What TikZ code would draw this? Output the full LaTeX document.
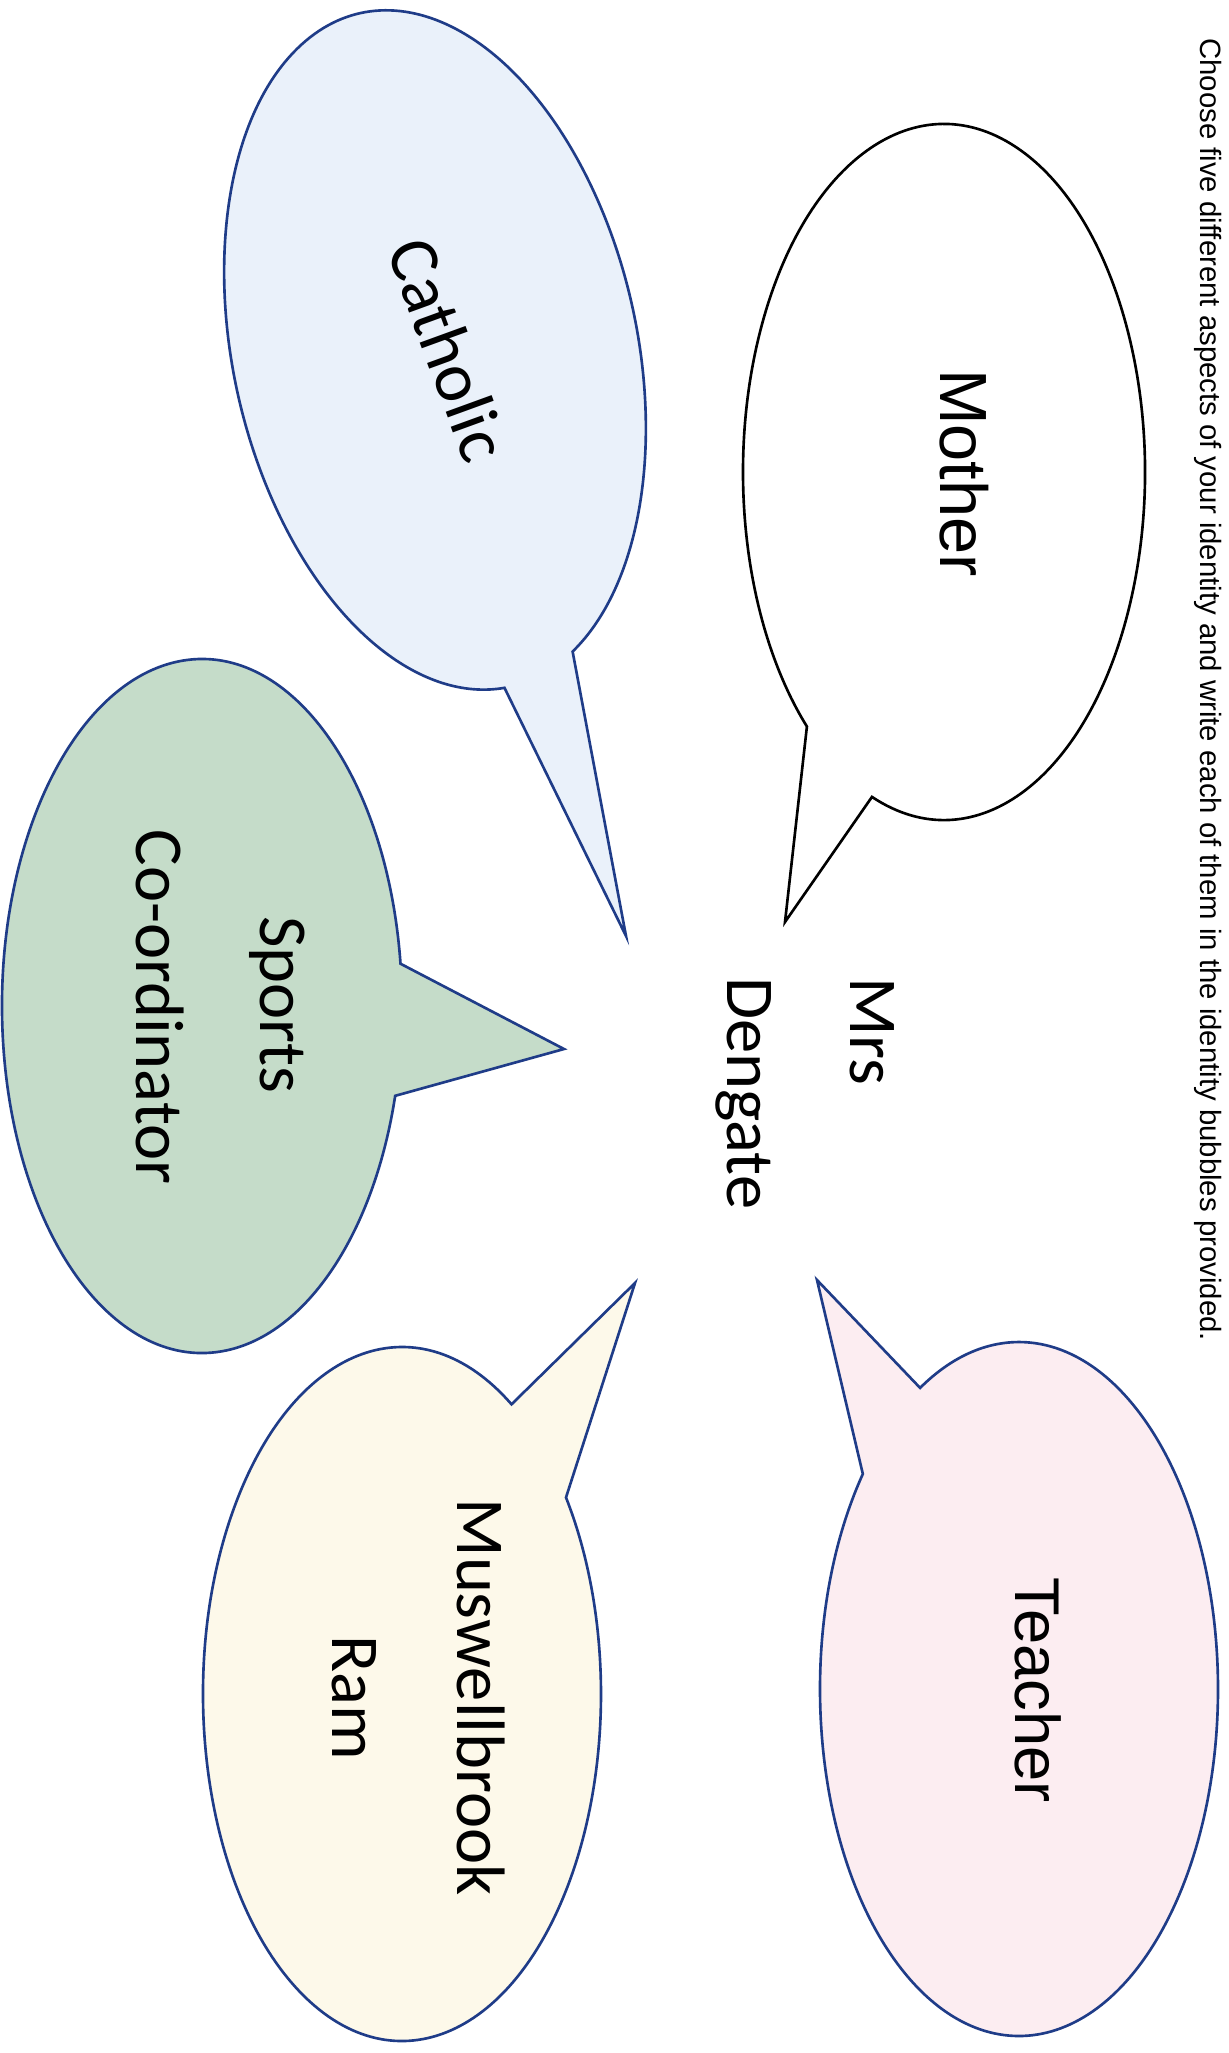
\documentclass[tikz,border=0pt]{standalone}
\usepackage{fontspec}
\setmainfont{Liberation Sans}
\newfontfamily\calfont{Carlito}
\definecolor{navy}{HTML}{1F3C88}
\definecolor{cathfill}{HTML}{EAF1FA}
\definecolor{sportsfill}{HTML}{C5DCC9}
\definecolor{ramfill}{HTML}{FDF9EA}
\definecolor{teachfill}{HTML}{FCEDF1}
\begin{document}
\begin{tikzpicture}[x=0.02cm,y=0.02cm,
  bubble/.style={line width=1.5pt, line join=miter},
  vtext/.style={inner sep=0pt, rotate=-90},
  arialbig/.style={font=\fontsize{38}{42}\selectfont},
  calbig/.style={font=\calfont\fontsize{39}{44}\selectfont}]
\fill[white] (0,0) rectangle (1229,-2053);
\useasboundingbox (0,0) rectangle (1229,-2053);

% instruction line
\node[vtext, anchor=base west, font=\fontsize{16.7}{20}\selectfont] (title) at (1200,-38)
  {Choose five different aspects of your identity and write each of them in the identity bubbles provided.};

% Mother bubble
\coordinate (mothertip) at (785,-922);
\path[bubble, draw=black, fill=white]
  ({944+201*cos(249)},{-472+348*sin(249)})
  arc[x radius=201, y radius=348, start angle=249, end angle=587]
  -- (mothertip) -- cycle;

% Catholic bubble
\coordinate (cathtip) at (626,-936);
\begin{scope}[shift={(435,-350)}, rotate=12.5]
\path[bubble, draw=navy, fill=cathfill]
  ({202*cos(290)},{345*sin(290)})
  arc[x radius=202, y radius=345, start angle=290, end angle=628.5]
  -- (cathtip) -- cycle;
\end{scope}

% Sports bubble
\coordinate (sportstip) at (564,-1049);
\path[bubble, draw=navy, fill=sportsfill]
  ({202+200*cos(7)},{-1006+347*sin(7)})
  arc[x radius=200, y radius=347, start angle=7, end angle=345]
  -- (sportstip) -- cycle;

% Muswellbrook bubble
\coordinate (ramtip) at (635,-1283);
\path[bubble, draw=navy, fill=ramfill]
  ({402+199*cos(56.6)},{-1694+347*sin(56.6)})
  arc[x radius=199, y radius=347, start angle=56.6, end angle=394.5]
  -- (ramtip) -- cycle;

% Teacher bubble
\coordinate (teachtip) at (817,-1280);
\path[bubble, draw=navy, fill=teachfill]
  ({1019+199*cos(141.7)},{-1689+347*sin(141.7)})
  arc[x radius=199, y radius=347, start angle=141.7, end angle=479.8]
  -- (teachtip) -- cycle;

% texts
\node[vtext, anchor=base, arialbig] (mother) at (940,-473) {Mother};
\node[vtext, anchor=base, font=\fontsize{36}{40}\selectfont] (teacher) at (1015,-1690) {Teacher};
\node[inner sep=0pt, rotate=-70, anchor=base, font=\calfont\fontsize{40}{44}\selectfont] (catholic) at (426,-358) {Catholic};
\node[vtext, anchor=base west, calbig] (mrs) at (850,-977) {Mrs};
\node[vtext, anchor=base west, calbig] (dengate) at (727,-977) {Dengate};
\node[vtext, anchor=base, calbig] (sports) at (260,-1005) {Sports};
\node[vtext, anchor=base, calbig] (coord) at (136,-1007) {Co-ordinator};
\node[vtext, anchor=base, calbig] (muswell) at (457,-1697) {Muswellbrook};
\node[vtext, anchor=base, calbig] (ram) at (332,-1698) {Ram};
\end{tikzpicture}
\end{document}
